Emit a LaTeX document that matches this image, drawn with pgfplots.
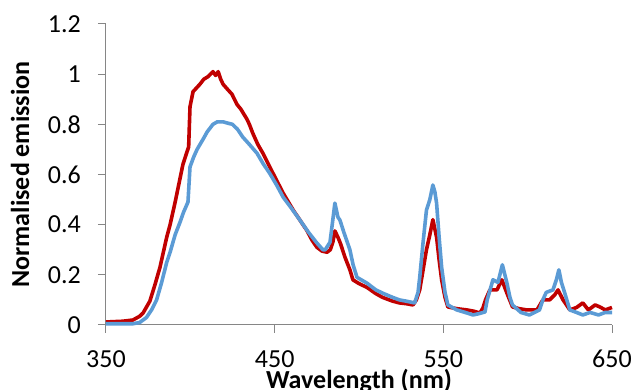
\documentclass[border=0pt]{standalone}
\usepackage{pgfplots}
\pgfplotsset{compat=1.18}
\usepackage{fontspec}
\setmainfont{Carlito}
\definecolor{redc}{HTML}{C00000}
\definecolor{bluec}{HTML}{5B9BD5}
\definecolor{axgray}{HTML}{868686}
\begin{document}
\begin{tikzpicture}
\path[use as bounding box] (0,0) rectangle (635pt,390pt);
\begin{axis}[
  at={(106pt,65pt)}, anchor=south west,
  scale only axis, width=506pt, height=301pt,
  xmin=350, xmax=650, ymin=0, ymax=1.2,
  axis x line=bottom, axis y line=left,
  axis line style={-, axgray, line width=1pt},
  xtick={350,450,550,650},
  ytick={0,0.2,0.4,0.6,0.8,1,1.2},
  yticklabels={0,0.2,0.4,0.6,0.8,1,1.2},
  xticklabels={350,450,550,650},
  tick align=outside, major tick length=8pt,
  tick style={axgray, line width=1pt},
  /pgf/number format/assume math mode=true,
  ticklabel style={font=\fontsize{26}{26}\selectfont},
  yticklabel style={anchor=east, inner sep=0pt, xshift=-17pt},
  xticklabel style={anchor=center, inner sep=0pt, yshift=-26pt},
  xlabel={Wavelength (nm)},
  ylabel={Normalised emission},
  xlabel style={font=\bfseries\fontsize{26}{26}\selectfont, at={(axis description cs:0.5,-0.21)}, anchor=base},
  ylabel style={font=\bfseries\fontsize{26}{26}\selectfont, at={(axis description cs:-0.17,0.5)}, anchor=center},
  clip=false,
]
\addplot[redc, line width=3.6pt, line join=round] coordinates {
(350,0.012)(360,0.015)(366,0.02)(370,0.035)(372,0.048)(376,0.095)(379,0.16)(382,0.23)(386,0.35)(388,0.40)(391,0.49)(395.6,0.64)(398,0.69)(399,0.71)(399.8,0.87)(401.6,0.93)(405.7,0.96)(408,0.98)(410.5,0.99)(413.4,1.01)(415,0.995)(416.5,1.01)(418,0.98)(419.4,0.96)(422,0.94)(424.7,0.92)(427.6,0.88)(430,0.86)(433.6,0.82)(435,0.80)(437,0.765)(440,0.72)(443,0.685)(449,0.605)(455,0.526)(461,0.458)(465,0.418)(469,0.378)(472,0.34)(475,0.31)(478,0.295)(481,0.29)(483,0.30)(484.5,0.33)(485.7,0.375)(487.5,0.35)(489,0.325)(491.7,0.27)(494.6,0.22)(496.4,0.18)(500,0.165)(504.7,0.15)(510,0.125)(514,0.11)(520,0.095)(524,0.088)(528,0.085)(532,0.08)(534,0.10)(536,0.14)(538,0.22)(540,0.30)(542,0.36)(543.8,0.42)(546,0.35)(547.5,0.26)(549,0.18)(551,0.11)(552.7,0.072)(558,0.065)(564,0.06)(568,0.055)(571.7,0.048)(573.5,0.068)(575,0.10)(577.6,0.14)(581.8,0.14)(584.7,0.18)(587.7,0.127)(591,0.072)(595,0.065)(599.5,0.06)(605.5,0.06)(609,0.10)(613,0.10)(616,0.12)(618,0.14)(621,0.10)(625,0.06)(629,0.07)(632.7,0.088)(636,0.06)(640,0.08)(642.8,0.072)(646,0.06)(650,0.07)
};
\addplot[bluec, line width=3.6pt, line join=round] coordinates {
(350,0.005)(360,0.005)(366,0.005)(370,0.01)(374,0.03)(377,0.06)(380,0.10)(383,0.17)(386,0.25)(388,0.29)(391,0.36)(393.9,0.41)(396,0.45)(398.6,0.49)(399.8,0.63)(402,0.67)(404,0.70)(407.5,0.74)(410,0.77)(413.4,0.80)(416,0.81)(419.4,0.81)(422,0.805)(425,0.80)(428,0.78)(431,0.75)(435,0.72)(439.5,0.685)(443,0.645)(447,0.605)(451,0.56)(455,0.51)(460,0.465)(465,0.418)(470,0.37)(475,0.327)(478.6,0.30)(480,0.30)(482.8,0.33)(484.5,0.42)(485.7,0.486)(487.5,0.43)(488.7,0.418)(491,0.37)(494.6,0.30)(496.5,0.24)(498.8,0.19)(504.7,0.167)(510,0.14)(514,0.127)(520,0.11)(524,0.10)(528,0.095)(533,0.088)(535,0.13)(536,0.19)(538,0.33)(540,0.458)(542,0.50)(543.8,0.558)(545,0.53)(546,0.486)(547.5,0.35)(549,0.23)(551,0.13)(552.7,0.08)(558,0.06)(563,0.05)(567.6,0.04)(571,0.045)(574.7,0.052)(576,0.10)(579.4,0.18)(582.4,0.17)(585,0.24)(586.5,0.20)(587.7,0.167)(589.5,0.11)(591,0.08)(596,0.05)(601,0.04)(604,0.05)(607,0.06)(609,0.10)(611,0.13)(615,0.14)(617,0.18)(618.5,0.22)(620,0.17)(622,0.127)(625,0.06)(629,0.05)(632.7,0.04)(637,0.05)(642,0.04)(646,0.05)(650,0.05)
};
\end{axis}
\end{tikzpicture}
\end{document}
